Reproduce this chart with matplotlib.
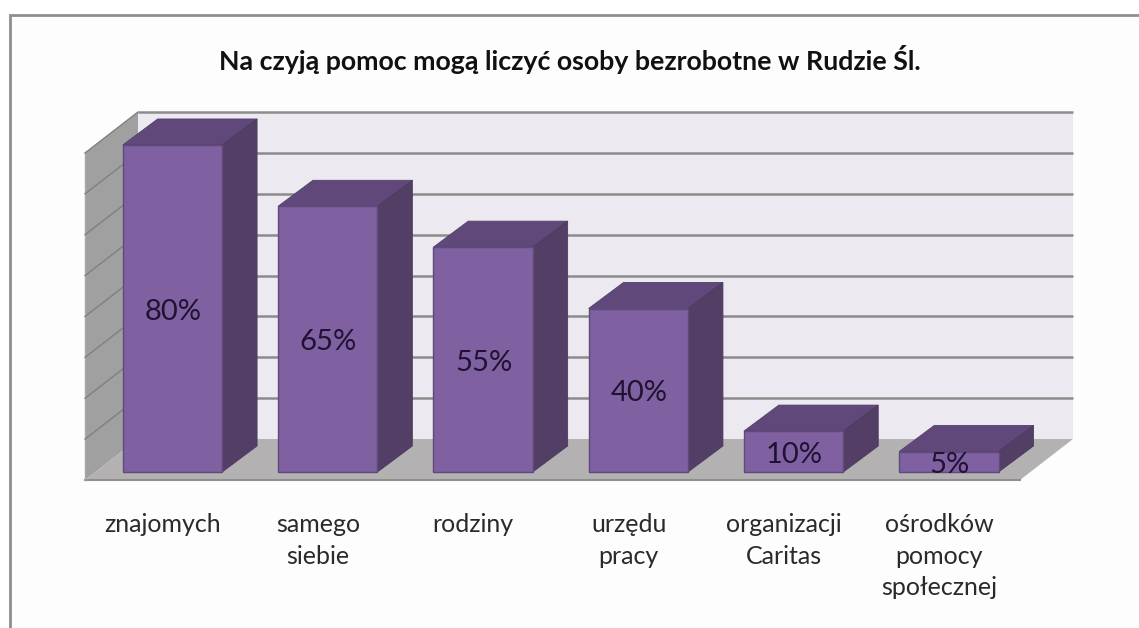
import matplotlib
matplotlib.use("Agg")
import matplotlib.pyplot as plt
from matplotlib.patches import Polygon
from matplotlib.transforms import Affine2D

categories = ["znajomych", "samego\nsiebie", "rodziny", "urzędu\npracy",
              "organizacji\nCaritas", "ośrodków\npomocy\nspołecznej"]
values = [80, 65, 55, 40, 10, 5]
labels = ["80%", "65%", "55%", "40%", "10%", "5%"]
grid_values = [0, 10, 20, 30, 40, 50, 60, 70, 80]
title = "Na czyją pomoc mogą liczyć osoby bezrobotne w Rudzie Śl."

W, H = 1139, 628
plt.rcParams["font.family"] = ["Lato", "DejaVu Sans"]
fig = plt.figure(figsize=(W / 100, H / 100), dpi=100, facecolor="#fdfdfd")

# frame of the picture: white margin outside, grey line on top and left
bg = fig.add_axes([0, 0, 1, 1], zorder=0)
bg.set_xlim(0, W); bg.set_ylim(H, 0); bg.axis("off")
bg.fill_between([0, W], 0, 14, color="white", lw=0)
bg.fill_between([0, 8], 0, H, color="white", lw=0)
bg.plot([9.5, 9.5, W], [H, 15, 15], color="#8e8e8e", lw=2, solid_joinstyle="miter")

# plotting axes: front plane of the 3D box
L, R, B, T = 85, 1020, 480, 153
ax = fig.add_axes([L / W, 1 - B / H, (R - L) / W, (B - T) / H], zorder=1)
ax.set_xlim(-0.494, 5.527); ax.set_ylim(0, 80); ax.axis("off")

DX, DY = 53, 41          # full depth of the box in pixels
DX_BAR = 55              # horizontal depth used for the bars
B0, B1 = 0.195, 0.83     # depth range of the bars


def depth(d, ox=0, oy=0, dx=DX):
    return ax.transData + Affine2D().translate(dx * d + ox, DY * d + oy)


def poly(pts, d_list, fc, ec=None, lw=0.0, z=1, dx=DX):
    """pts are (x, y) in data units, each pushed back to its own depth."""
    disp = [depth(d, dx=dx).transform(p) for p, d in zip(pts, d_list)]
    ax.add_patch(Polygon(disp, closed=True, transform=None, facecolor=fc,
                         edgecolor=ec or fc, linewidth=lw, zorder=z, clip_on=False))


x0, x1 = ax.get_xlim()
top = grid_values[-1]
# back wall
poly([(x0, 0), (x1, 0), (x1, top), (x0, top)], [1, 1, 1, 1], "#ece9f0", z=1)
# left wall
poly([(x0, 0), (x0, 0), (x0, top), (x0, top)], [0, 1, 1, 0], "#a0a0a0", z=1)
# floor
poly([(x0, 0), (x1, 0), (x1, 0), (x0, 0)], [0, 0, 1, 1], "#b3b1b2", z=2)
ax.plot([x0, x1], [0, 0], color="#8f8f8f", lw=1.5, zorder=2, clip_on=False)
ax.plot([x0, x0], [0, top], color="#a8a8a8", lw=1.0, zorder=2, clip_on=False)

# gridlines on the back and left walls
for g in grid_values[1:]:
    ax.plot([x0, x1], [g, g], color="#8c8c8c", lw=1.8, zorder=2,
            transform=depth(1), clip_on=False, solid_capstyle="butt")
    a = depth(0).transform((x0, g)); b = depth(1).transform((x0, g))
    ax.plot([a[0], b[0]], [a[1], b[1]], color="#808080", lw=1.0, zorder=2,
            transform=None, clip_on=False)

# bars
width = 0.64
FRONT, SIDE, ROOF = "#7f60a1", "#533e66", "#60497a"
for i, (v, lab) in enumerate(zip(values, labels)):
    l, r = i - width / 2, i + width / 2
    poly([(l, v), (r, v), (r, v), (l, v)], [B0, B0, B1, B1], ROOF, "#54406a", 0.6, z=3, dx=DX_BAR)
    poly([(r, 0), (r, 0), (r, v), (r, v)], [B0, B1, B1, B0], SIDE, "#4c3a5e", 0.6, z=3, dx=DX_BAR)
    poly([(l, 0), (r, 0), (r, v), (l, v)], [B0, B0, B0, B0], FRONT, "#5f4a7c", 1.0, z=4, dx=DX_BAR)
    ax.text(i, v / 2, lab, transform=depth(B0, 1, -3), ha="center", va="center",
            fontsize=21, color="#1f1232", zorder=5, clip_on=False)

# category labels
for i, c in enumerate(categories):
    px = ax.transData.transform((i, 0))[0] + 1
    bg.text(px, 513, c, ha="center", va="top", fontsize=18, color="#2a2a2a",
            linespacing=1.46, zorder=6)

# title
bg.text(570, 59.5, title, ha="center", va="center", fontsize=19.3, fontweight="bold",
        color="#111111")

fig.savefig("out.png", dpi=100, facecolor=fig.get_facecolor())
